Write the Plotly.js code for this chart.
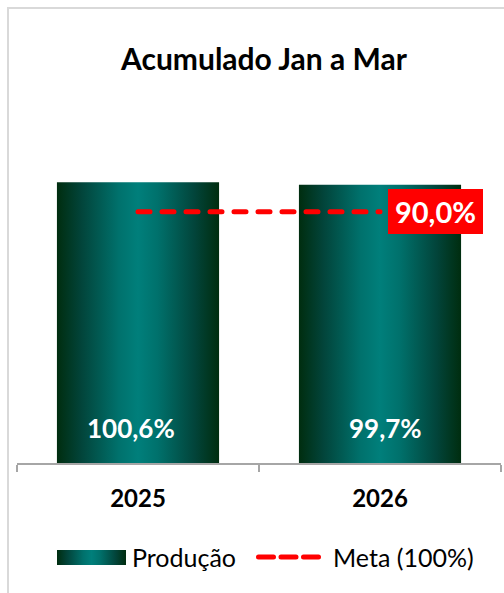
<!DOCTYPE html>
<html><head><meta charset="utf-8">
<script src="https://cdn.plot.ly/plotly-3.0.1.min.js"></script>
<style>
html,body{margin:0;padding:0;background:#fff;}
#wrap{position:relative;width:504px;height:593px;overflow:hidden;}
#chart{position:absolute;left:0;top:0;width:504px;height:593px;}
#frame{position:absolute;left:7px;top:7px;width:700px;height:800px;border-left:2px solid #d9d9d9;border-top:2px solid #d9d9d9;pointer-events:none;}
</style>
</head><body>
<div id="wrap"><div id="chart"></div><div id="frame"></div></div>
<script>
// ---- data ----
const categories = ['2025', '2026'];
const producao = [100.6, 99.7];
const meta = [90, 90];
const metaLabelValue = 90.0;
const seriesNames = ['Produção', 'Meta (100%)'];
const titleText = 'Acumulado Jan a Mar';

function fmt(v) { return v.toFixed(1).replace('.', ',') + '%'; }

const FONT = 'Lato, "Open Sans", sans-serif';
const W = 504, H = 593;
const M = {l: 17, r: 3, t: 128, b: 130};
const PW = W - M.l - M.r, PH = H - M.t - M.b;
function px2x(p) { return (p - M.l) / PW; }
function px2y(p) { return (H - M.b - p) / PH; }

const data = [
  {
    type: 'bar', name: seriesNames[0], x: categories, y: producao,
    marker: {color: '#007a74', line: {width: 0}},
    hoverinfo: 'skip'
  },
  {
    type: 'scatter', mode: 'lines', name: seriesNames[1], x: categories, y: meta,
    line: {color: '#ff0000', width: 5, dash: '12px,12px'},
    hoverinfo: 'skip'
  }
];

const barLabelShift = [-7, 5];
const annotations = categories.map((c, i) => ({
  xref: 'x', yref: 'y', x: i, y: 0, yanchor: 'middle', yshift: 35, xshift: barLabelShift[i],
  text: fmt(producao[i]), showarrow: false,
  font: {family: FONT, size: 26, color: '#ffffff', weight: 'bold'}
}));
annotations.push({
  xref: 'x', yref: 'y', x: categories.length - 1, y: meta[meta.length - 1],
  xanchor: 'center', yanchor: 'middle', xshift: 55,
  text: fmt(metaLabelValue), showarrow: false, bgcolor: '#ff0000',
  width: 95, height: 45, borderpad: 0, borderwidth: 0,
  font: {family: FONT, size: 29, color: '#ffffff', weight: 'bold'}
});
// legend texts
annotations.push({
  xref: 'paper', yref: 'paper', x: px2x(130), y: px2y(557), xanchor: 'left', yanchor: 'middle',
  text: seriesNames[0], showarrow: false, font: {family: FONT, size: 25, color: '#000'}
});
annotations.push({
  xref: 'paper', yref: 'paper', x: px2x(331), y: px2y(557), xanchor: 'left', yanchor: 'middle',
  text: seriesNames[1], showarrow: false, font: {family: FONT, size: 25, color: '#000'}
});

const shapes = [
  {type: 'rect', xref: 'paper', yref: 'paper', layer: 'above',
   x0: px2x(57), x1: px2x(126), y0: px2y(565), y1: px2y(550),
   fillcolor: '#007a74', line: {width: 0}},
  {type: 'line', xref: 'paper', yref: 'paper', layer: 'above',
   x0: px2x(258.5), x1: px2x(318.5), y0: px2y(557), y1: px2y(557),
   line: {color: '#ff0000', width: 5, dash: '15px,7.5px'}}
];

const layout = {
  width: W, height: H, margin: M,
  paper_bgcolor: 'rgba(0,0,0,0)', plot_bgcolor: 'rgba(0,0,0,0)',
  showlegend: false, bargap: 0.33,
  title: {text: titleText, font: {family: FONT, size: 30, color: '#000', weight: 'bold'},
          xref: 'container', yref: 'container', x: 264 / W, xanchor: 'center',
          y: 1 - 59 / H, yanchor: 'middle'},
  xaxis: {type: 'category', categoryorder: 'array', categoryarray: categories,
          range: [-0.5, categories.length - 0.5], autorange: false,
          showline: true, linecolor: '#a6a6a6', linewidth: 1.5,
          ticks: 'outside', tickson: 'boundaries', ticklen: 7, tickcolor: '#a6a6a6', tickwidth: 1.5,
          tickfont: {family: FONT, size: 24, color: '#000', weight: 'bold'}, tickangle: 0,
          ticklabelstandoff: 14, showgrid: false, zeroline: false, fixedrange: true},
  yaxis: {range: [0, 120], autorange: false, visible: false, showgrid: false, zeroline: false, fixedrange: true},
  annotations: annotations, shapes: shapes
};

Plotly.newPlot('chart', data, layout, {staticPlot: true, displayModeBar: false}).then(gd => {
  const ns = 'http://www.w3.org/2000/svg';
  const svg = gd.querySelector('svg.main-svg');
  let defs = svg.querySelector('defs');
  if (!defs) { defs = document.createElementNS(ns, 'defs'); svg.insertBefore(defs, svg.firstChild); }
  const lg = document.createElementNS(ns, 'linearGradient');
  lg.setAttribute('id', 'barGrad');
  lg.setAttribute('x1', '0'); lg.setAttribute('y1', '0');
  lg.setAttribute('x2', '1'); lg.setAttribute('y2', '0');
  [[0, '#002d0f'], [0.15, '#02443a'], [0.38, '#00716c'], [0.5, '#007f7b'],
   [0.62, '#00716c'], [0.85, '#02443a'], [1, '#002d0f']].forEach(([o, c]) => {
    const s = document.createElementNS(ns, 'stop');
    s.setAttribute('offset', o); s.setAttribute('stop-color', c);
    lg.appendChild(s);
  });
  defs.appendChild(lg);
  gd.querySelectorAll('.barlayer .point path').forEach(p => { p.style.fill = 'url(#barGrad)'; });
  gd.querySelectorAll('.shapelayer path').forEach(p => {
    if (p.style.fill && p.style.fill.replace(/\s/g, '') === 'rgb(0,122,116)') p.style.fill = 'url(#barGrad)';
    if (p.style.stroke && p.style.stroke.replace(/\s/g, '') === 'rgb(255,0,0)') p.style.strokeLinecap = 'round';
  });
  gd.querySelectorAll('.scatterlayer .js-line').forEach(p => { p.style.strokeLinecap = 'round'; });
});
</script>
</body></html>
